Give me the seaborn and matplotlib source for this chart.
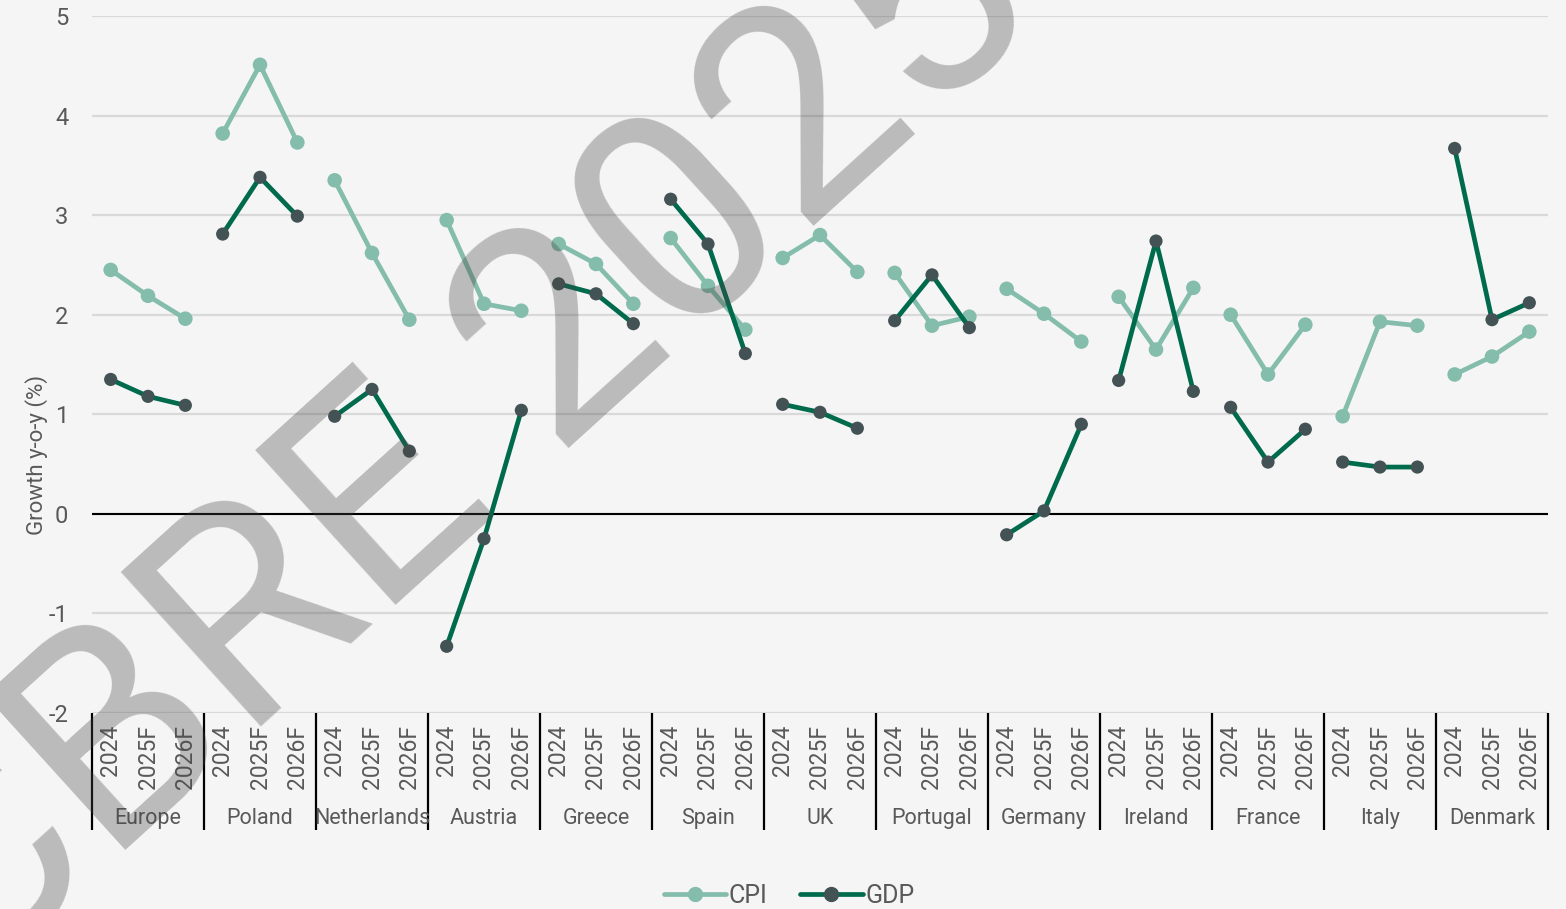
import numpy as np
import pandas as pd
import matplotlib
matplotlib.use("Agg")
import matplotlib.pyplot as plt
import matplotlib.transforms as mtransforms
from matplotlib.lines import Line2D
import seaborn as sns

# data
countries = ["Europe", "Poland", "Netherlands", "Austria", "Greece", "Spain", "UK",
             "Portugal", "Germany", "Ireland", "France", "Italy", "Denmark"]
periods = ["2024", "2025F", "2026F"]

cpi = [2.45, 2.19, 1.96,
       3.82, 4.51, 3.73,
       3.35, 2.62, 1.95,
       2.95, 2.11, 2.04,
       2.71, 2.51, 2.11,
       2.77, 2.29, 1.85,
       2.57, 2.80, 2.43,
       2.42, 1.89, 1.98,
       2.26, 2.01, 1.73,
       2.18, 1.65, 2.27,
       2.00, 1.40, 1.90,
       0.98, 1.93, 1.89,
       1.40, 1.58, 1.83]

gdp = [1.35, 1.18, 1.09,
       2.81, 3.38, 2.99,
       0.98, 1.25, 0.63,
       -1.33, -0.25, 1.04,
       2.31, 2.21, 1.91,
       3.16, 2.71, 1.61,
       1.10, 1.02, 0.86,
       1.94, 2.40, 1.87,
       -0.21, 0.03, 0.90,
       1.34, 2.74, 1.23,
       1.07, 0.52, 0.85,
       0.52, 0.47, 0.47,
       3.67, 1.95, 2.12]

n = len(countries) * len(periods)
base = pd.DataFrame({
    "country": np.repeat(countries, len(periods)),
    "period": periods * len(countries),
    "pos": np.arange(n),
})
df = pd.concat([base.assign(series="CPI", value=cpi),
                base.assign(series="GDP", value=gdp)], ignore_index=True)

bg = "#f5f5f5"
txt = "#595959"
line_col = {"CPI": "#84bdab", "GDP": "#006a4d"}
mark_col = {"CPI": "#84bdab", "GDP": "#435254"}
mark_size = {"CPI": 110, "GDP": 90}

sns.set_theme(style="white")
plt.rcParams["font.family"] = ["Roboto", "DejaVu Sans"]
plt.rcParams["axes.unicode_minus"] = False

fig = plt.figure(figsize=(15.66, 9.09), dpi=100, facecolor=bg)
ax = fig.add_axes([92 / 1566, 1 - 713 / 909, 1456 / 1566, 697 / 909])
ax.set_facecolor(bg)

z = 3
for s in ["CPI", "GDP"]:
    sub = df[df.series == s]
    sns.lineplot(data=sub, x="pos", y="value", units="country", estimator=None,
                 color=line_col[s], linewidth=3.4, ax=ax, legend=False, zorder=z)
    sns.scatterplot(data=sub, x="pos", y="value", color=mark_col[s], s=mark_size[s],
                    edgecolor="none", ax=ax, legend=False, zorder=z + 1)
    z += 2

ax.set_xlim(-0.5, n - 0.5)
ax.set_ylim(-2, 5)
ax.set_yticks(range(-2, 6))
ax.set_xticks(range(n))
ax.set_xticklabels(base["period"], rotation=90)
ax.tick_params(axis="x", length=0, pad=8.5, labelsize=16.5, labelcolor=txt)
ax.tick_params(axis="y", length=0, pad=17, labelsize=17, labelcolor=txt)
ax.set_xlabel("")
ax.set_ylabel("")
for sp in ax.spines.values():
    sp.set_visible(False)
ax.yaxis.grid(True, color="#d9d9d9", linewidth=1.6, zorder=0)
ax.xaxis.grid(False)
ax.set_axisbelow(True)
ax.axhline(0, color="black", linewidth=1.5, zorder=2)

# group separators and country labels
trans = mtransforms.blended_transform_factory(ax.transData, ax.transAxes)
for b in np.arange(-0.5, n, 3):
    ax.plot([b, b], [0, -0.168], transform=trans, color="black", lw=1.6,
            clip_on=False, solid_capstyle="butt")
for i, c in enumerate(countries):
    ax.text(i * 3 + 1, -0.152, c, transform=trans, ha="center", va="center",
            fontsize=15.5, color=txt)

fig.text(37 / 1566, 1 - 455 / 909, "Growth y-o-y (%)", rotation=90,
         ha="center", va="center", fontsize=16, color=txt)

handles = [Line2D([0], [0], color=line_col[s], lw=3.4, marker="o", markersize=10,
                  markerfacecolor=mark_col[s], markeredgecolor=mark_col[s])
           for s in ["CPI", "GDP"]]
fig.legend(handles, ["CPI", "GDP"], loc="center", bbox_to_anchor=(789 / 1566, 1 - 896 / 909),
           ncol=2, frameon=False, fontsize=18, labelcolor=txt, handlelength=2.5,
           handletextpad=0.1, columnspacing=1.3, borderpad=0)

# watermark
fig.text(452 / 1566, 1 - 446 / 909, "CBRE 2025", rotation=42.2, rotation_mode="anchor",
         ha="center", va="center", fontsize=212, color="#444444", alpha=0.33,
         family="Roboto", zorder=10)

fig.savefig("out.png", dpi=100, facecolor=bg)
